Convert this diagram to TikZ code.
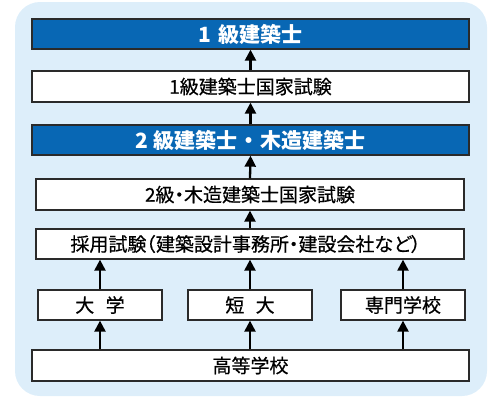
\documentclass[tikz,border=0pt]{standalone}
\usepackage{fontspec}
\setmainfont{Noto Sans CJK JP}
\newfontfamily\medjp[FakeBold=0.5]{Noto Sans CJK JP}
\usetikzlibrary{arrows.meta}
\definecolor{bgblue}{HTML}{DDEEFA}
\definecolor{boxblue}{HTML}{0867B4}
\definecolor{edge}{HTML}{2A2A2A}
\tikzset{
  wbox/.style={draw=edge, line width=1.3pt, fill=white, inner sep=0pt, font=\fontsize{19}{21}\selectfont\medjp},
  bbox/.style={draw=edge, line width=1.3pt, fill=boxblue, text=white, inner sep=0pt, font=\fontsize{21}{23}\selectfont\bfseries},
  arr/.style={line width=2.3pt, -{Triangle[width=11pt,length=11pt]}}
}
\begin{document}
\begin{tikzpicture}[x=1pt,y=1pt]
\useasboundingbox (0,0) rectangle (500,-400);
\fill[bgblue, rounded corners=25pt] (15,-2) rectangle (487,-396);
\node[bbox, minimum width=437pt, minimum height=30pt] (b1) at (250.5,-34) {1\hspace{0.3em}級建築士};
\node[wbox, minimum width=437pt, minimum height=31pt] (b2) at (250.5,-86.5) {1級建築士国家試験};
\node[bbox, minimum width=437pt, minimum height=30pt] (b3) at (250.5,-140) {2\hspace{0.25em}級建築士\hspace{0.05em}・\hspace{0.05em}木造建築士};
\node[wbox, minimum width=428pt, minimum height=31pt] (b4) at (250,-194.5) {2級{\kern-0.25em}・{\kern-0.25em}木造建築士国家試験};
\node[wbox, minimum width=428pt, minimum height=30pt] (b5) at (250,-244) {採用試験{\kern-0.5em}（建築設計事務所{\kern-0.25em}・{\kern-0.25em}建設会社など{\kern-0.1em}）};
\node[wbox, minimum width=124pt, minimum height=30pt] (b6a) at (100,-305) {大\hspace{0.6em}学};
\node[wbox, minimum width=124pt, minimum height=30pt] (b6b) at (250,-305) {短\hspace{0.6em}大};
\node[wbox, minimum width=124pt, minimum height=30pt] (b6c) at (403,-305) {専門学校};
\node[wbox, minimum width=437pt, minimum height=31pt] (b7) at (250.5,-365.5) {高等学校};
\draw[arr] (b2.north) -- (b1.south);
\draw[arr] (b3.north) -- (b2.south);
\draw[arr] (b4.north) -- (b3.south);
\draw[arr] (b5.north) -- (b4.south);
\draw[arr] (b6a.north) -- (b6a.north |- b5.south);
\draw[arr] (b6b.north) -- (b6b.north |- b5.south);
\draw[arr] (b6c.north) -- (b6c.north |- b5.south);
\draw[arr] (b7.north -| b6a.north) -- (b6a.south);
\draw[arr] (b7.north -| b6b.north) -- (b6b.south);
\draw[arr] (b7.north -| b6c.north) -- (b6c.south);
\end{tikzpicture}
\end{document}
